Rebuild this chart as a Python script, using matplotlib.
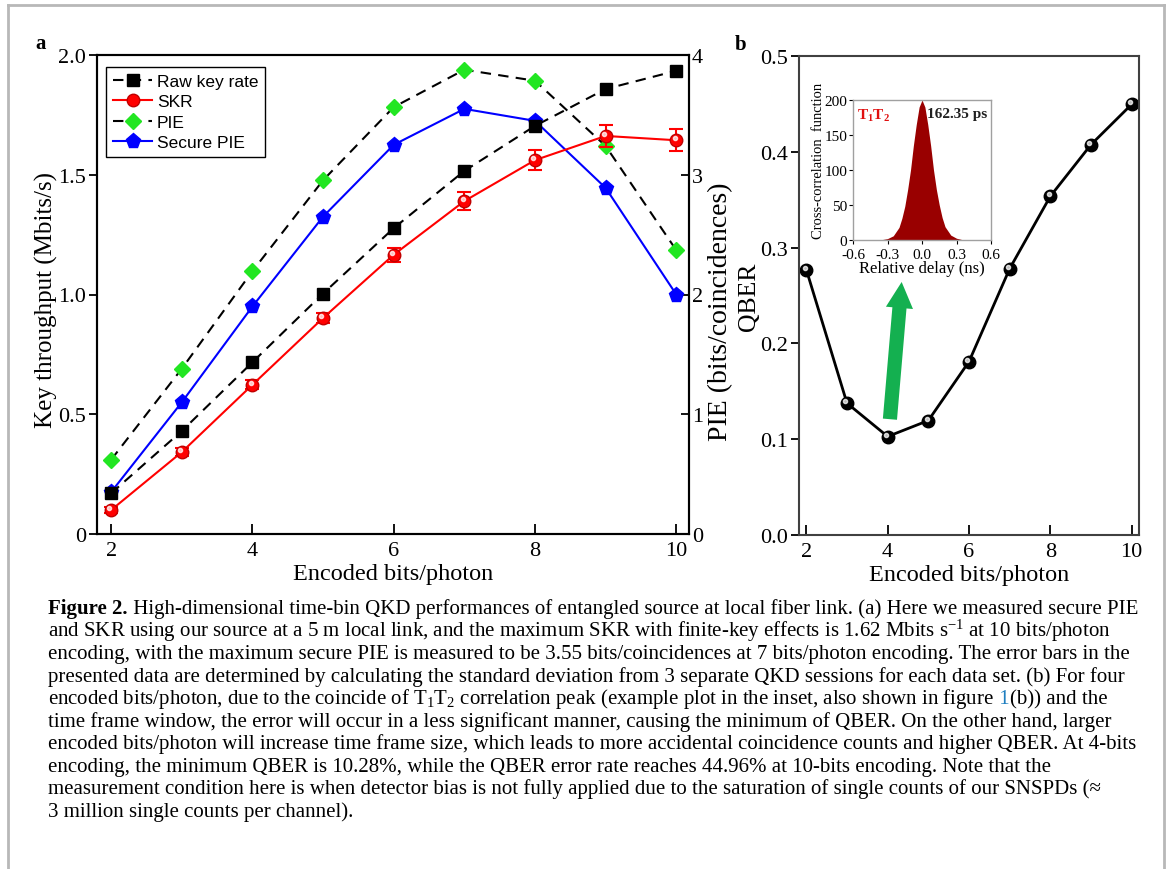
import matplotlib
matplotlib.use("Agg")
import matplotlib.pyplot as plt
from matplotlib.lines import Line2D
from matplotlib.transforms import ScaledTranslation

plt.rcParams['font.family'] = ['Liberation Serif', 'DejaVu Serif']
plt.rcParams['mathtext.fontset'] = 'custom'
plt.rcParams['mathtext.rm'] = 'Liberation Serif'
plt.rcParams['mathtext.it'] = 'Liberation Serif:italic'
plt.rcParams['mathtext.bf'] = 'Liberation Serif:bold'

# panel a data
bits = [2, 3, 4, 5, 6, 7, 8, 9, 10]
raw_rate = [0.17, 0.43, 0.717, 1.004, 1.277, 1.516, 1.704, 1.858, 1.934]
skr = [0.100, 0.342, 0.623, 0.902, 1.166, 1.390, 1.561, 1.662, 1.644]
skr_err = [0.012, 0.015, 0.018, 0.022, 0.03, 0.038, 0.042, 0.045, 0.046]
pie = [0.62, 1.38, 2.195, 2.954, 3.565, 3.877, 3.785, 3.24, 2.37]
secure_pie = [0.35, 1.10, 1.90, 2.65, 3.25, 3.55, 3.45, 2.89, 2.00]

# panel b data
qber = [0.277, 0.1376, 0.1028, 0.1195, 0.181, 0.278, 0.3536, 0.4075, 0.4496]

# inset: cross-correlation peak
delay = [-0.6, -0.4, -0.35, -0.3, -0.25, -0.2, -0.175, -0.15, -0.125, -0.1, -0.075,
         -0.05, -0.025, 0.0, 0.025, 0.05, 0.075, 0.1, 0.125, 0.15, 0.175, 0.2,
         0.25, 0.3, 0.35, 0.4, 0.6]
xcorr = [0, 0, 0.5, 2, 6, 18, 31, 48, 72, 100, 135, 165, 190, 200, 190, 165, 135,
         100, 72, 50, 32, 19, 7, 2.5, 0.5, 0, 0]

a_ticks = [0, 0.5, 1.0, 1.5, 2.0]
a_ticklabels = ['0', '0.5', '1.0', '1.5', '2.0']

caption = [
    " High-dimensional time-bin QKD performances of entangled source at local fiber link. (a) Here we measured secure PIE",
    "and SKR using our source at a 5 m local link, and the maximum SKR with finite-key effects is 1.62 Mbits s$^{-1}$ at 10 bits/photon",
    "encoding, with the maximum secure PIE is measured to be 3.55 bits/coincidences at 7 bits/photon encoding. The error bars in the",
    "presented data are determined by calculating the standard deviation from 3 separate QKD sessions for each data set. (b) For four",
    "encoded bits/photon, due to the coincide of T$_1$T$_2$ correlation peak (example plot in the inset, also shown in figure",
    "time frame window, the error will occur in a less significant manner, causing the minimum of QBER. On the other hand, larger",
    "encoded bits/photon will increase time frame size, which leads to more accidental coincidence counts and higher QBER. At 4-bits",
    "encoding, the minimum QBER is 10.28%, while the QBER error rate reaches 44.96% at 10-bits encoding. Note that the",
    "measurement condition here is when detector bias is not fully applied due to the saturation of single counts of our SNSPDs (\u2248",
    "3 million single counts per channel).",
]

fig = plt.figure(figsize=(11.68, 8.7), dpi=100)
W, H = 1168.0, 870.0


def fx(px):
    return px / W


def fy(py):
    return 1 - py / H


def highlight(ax, x, y, size):
    tr = ax.transData + ScaledTranslation(-1.2 / 72, 1.4 / 72, fig.dpi_scale_trans)
    ax.plot(x, y, 'o', ms=size, color='white', alpha=0.75, transform=tr, zorder=6)


tick_fs = 16
xlabel_fs = 17.5

# ---- panel a ----
ax = fig.add_axes([fx(97), fy(535), fx(689 - 97), (535 - 56) / H])
ax2 = ax.twinx()
ax.set_zorder(ax2.get_zorder() + 1)
ax.patch.set_visible(False)

l_raw, = ax.plot(bits, raw_rate, '--', color='black', lw=1.5, dashes=(5, 3.5),
                 marker='s', ms=8, mfc='black', mec='black', zorder=3)
ax.errorbar(bits, skr, yerr=skr_err, fmt='none', ecolor='red', elinewidth=1.5,
            capsize=5, capthick=1.5, zorder=4)
l_skr, = ax.plot(bits, skr, '-', color='red', lw=1.5, marker='o', ms=9,
                 mfc='red', mec='#c00000', zorder=5)
highlight(ax, bits, skr, 3)
l_pie, = ax2.plot(bits, pie, '--', color='black', lw=1.5, dashes=(5, 3.5),
                  marker='D', ms=8, mfc='#22e622', mec='#22e622', zorder=3)
l_spie, = ax2.plot(bits, secure_pie, '-', color='blue', lw=1.5, marker='p', ms=11,
                   mfc='blue', mec='blue', zorder=3)

ax.set_xlim(1.8, 10.18)
ax.set_ylim(0, 2.0)
ax2.set_ylim(0, 4)
ax.set_xticks([2, 4, 6, 8, 10])
ax.set_yticks(a_ticks)
ax.set_yticklabels(a_ticklabels)
ax2.set_yticks([0, 1, 2, 3, 4])
ax.tick_params(axis='x', direction='in', length=7, width=1.3, labelsize=tick_fs, pad=5)
ax.tick_params(axis='y', direction='out', length=6, width=1.3, labelsize=tick_fs, pad=2)
ax2.tick_params(axis='y', direction='in', length=6, width=1.3, labelsize=tick_fs, pad=2)
for a in (ax, ax2):
    for s in a.spines.values():
        s.set_linewidth(1.5)
ax.set_xlabel('Encoded bits/photon', fontsize=xlabel_fs, labelpad=2)
ax.set_ylabel('Key throughput (Mbits/s)', fontsize=18)
ax.yaxis.set_label_coords(-0.066, 0.49)
ax2.set_ylabel('PIE (bits/coincidences)', fontsize=20)
ax2.yaxis.set_label_coords(1.032, 0.466)

leg = ax.legend([l_raw, l_skr, l_pie, l_spie], ['Raw key rate', 'SKR', 'PIE', 'Secure PIE'],
                loc='upper left', bbox_to_anchor=(0.016, 0.975), borderaxespad=0,
                prop={'family': 'Liberation Sans', 'size': 12.5}, fancybox=False,
                edgecolor='black', framealpha=1, handlelength=2.2, handletextpad=0.3,
                labelspacing=0.3, borderpad=0.4)
leg.get_frame().set_linewidth(1.0)

# ---- panel b ----
bx = fig.add_axes([fx(799), fy(536), fx(1139 - 799), (536 - 57) / H])
bx.plot(bits, qber, '-', color='black', lw=2, marker='o', ms=9, mfc='black', mec='black')
highlight(bx, bits, qber, 3)
bx.set_xlim(1.82, 10.18)
bx.set_ylim(0, 0.5)
bx.set_xticks([2, 4, 6, 8, 10])
bx.set_yticks([0.0, 0.1, 0.2, 0.3, 0.4, 0.5])
bx.set_yticklabels(['0.0', '0.1', '0.2', '0.3', '0.4', '0.5'])
bx.tick_params(axis='x', direction='in', length=7, width=1.3, labelsize=tick_fs, pad=5)
bx.tick_params(axis='y', direction='out', length=6, width=1.3, labelsize=tick_fs, pad=2)
for s in bx.spines.values():
    s.set_linewidth(1.5)
    s.set_color('#404040')
bx.set_xlabel('Encoded bits/photon', fontsize=xlabel_fs, labelpad=2)
bx.set_ylabel('QBER', fontsize=18.5)
bx.yaxis.set_label_coords(-0.114, 0.50)

bx.annotate('', xy=(4.35, 0.267), xytext=(4.05, 0.118), zorder=2,
            arrowprops=dict(arrowstyle='simple,head_length=1.1,head_width=1.15,tail_width=0.6',
                            color='#14b050', lw=0, mutation_scale=17))

# inset
ix = fig.add_axes([fx(853), fy(241), fx(991 - 853), (241 - 101) / H])
ix.fill_between(delay, xcorr, 0, color='#990000', lw=0)
ix.set_xlim(-0.6, 0.6)
ix.set_ylim(0, 200)
ix.set_xticks([-0.6, -0.3, 0.0, 0.3, 0.6])
ix.set_xticklabels(['-0.6', '-0.3', '0.0', '0.3', '0.6'])
ix.set_yticks([0, 50, 100, 150, 200])
ix.tick_params(axis='y', direction='out', length=3, width=0.8, labelsize=11, pad=1)
ix.tick_params(axis='x', direction='out', length=3, width=0.8, labelsize=11, pad=3)
for s in ix.spines.values():
    s.set_color('#a0a0a0')
    s.set_linewidth(1)
ix.set_xlabel('Relative delay (ns)', fontsize=12, labelpad=-1)
ix.set_ylabel('Cross-correlation  function', fontsize=10.5)
ix.yaxis.set_label_coords(-0.2, 0.57)
ix.text(0.03, 0.95, r'$\mathbf{T_1T_2}$', color='#e01010', fontsize=11,
        transform=ix.transAxes, va='top', ha='left')
ix.text(0.97, 0.95, '162.35 ps', color='#202020', fontsize=11, fontweight='bold',
        transform=ix.transAxes, va='top', ha='right')

# panel letters
fig.text(fx(35), fy(49), 'a', fontsize=15, fontweight='bold')
fig.text(fx(735), fy(50), 'b', fontsize=15, fontweight='bold')

# caption
cap_fs = 15
y0 = 614
for i, line in enumerate(caption):
    yb = fy(y0 + i * 22.55)
    if i == 0:
        t0 = fig.text(fx(48), yb, 'Figure 2.', fontsize=cap_fs, fontweight='bold', va='baseline')
        fig.add_artist(plt.Annotation(line, xy=(1, yb), xycoords=(t0, 'figure fraction'),
                                      fontsize=cap_fs, va='baseline'))
    elif i == 4:
        t1 = fig.text(fx(48), yb, line, fontsize=cap_fs, va='baseline')
        t2 = plt.Annotation(' 1', xy=(1, yb), xycoords=(t1, 'figure fraction'),
                            fontsize=cap_fs, va='baseline', color='#1f7fc0')
        fig.add_artist(t2)
        fig.add_artist(plt.Annotation('(b)) and the', xy=(1, yb), xycoords=(t2, 'figure fraction'),
                                      fontsize=cap_fs, va='baseline'))
    else:
        fig.text(fx(48), yb, line, fontsize=cap_fs, va='baseline')

# page frame
for xs, ys in [([fx(8), fx(8)], [0, fy(6)]), ([fx(8), fx(1164)], [fy(6), fy(6)]),
               ([fx(1164), fx(1164)], [0, fy(6)])]:
    fig.add_artist(Line2D(xs, ys, color='#b8b8b8', lw=2, transform=fig.transFigure))

fig.savefig('out.png', dpi=100)
